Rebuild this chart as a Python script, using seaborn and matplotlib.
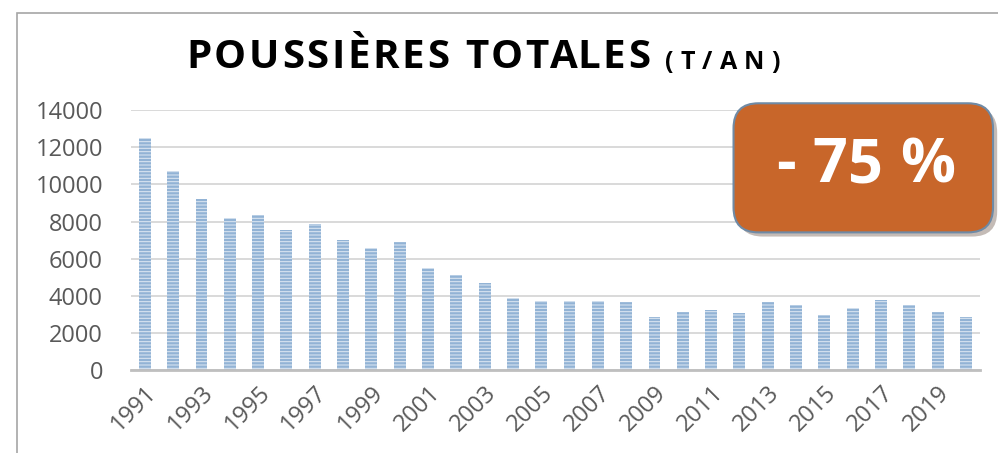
import matplotlib
matplotlib.use("Agg")
import matplotlib.pyplot as plt
import matplotlib.patheffects as pe
from matplotlib.patches import FancyBboxPatch, Rectangle
import seaborn as sns
import pandas as pd

# Données (t/an)
annees = [str(a) for a in range(1991, 2021)]
emissions = [12500, 10700, 9200, 8180, 8350, 7540, 7860, 7000, 6570, 6890,
             5490, 5120, 4680, 3890, 3730, 3700, 3700, 3690, 2840, 3120,
             3230, 3100, 3640, 3480, 2980, 3320, 3750, 3500, 3140, 2870]
yticks = [0, 2000, 4000, 6000, 8000, 10000, 12000, 14000]

titre = "POUSSIÈRES TOTALES"
unite = "(T/AN)"
badge = "- 75 %"

sns.set_theme(style="white")
plt.rcParams['font.family'] = ['Open Sans', 'DejaVu Sans']
plt.rcParams['hatch.linewidth'] = 0.75

df = pd.DataFrame({'annee': annees, 'valeur': emissions})

fig = plt.figure(figsize=(9.98, 4.53), dpi=100)
ax = fig.add_axes([0.131, 0.183, 0.851, 0.574])
renderer = fig.canvas.get_renderer()


def largeur(s, **kw):
    # largeur en pixels d'une chaine (astuce du '|' pour garder les espaces)
    t = fig.text(0, 0, s + '|', **kw)
    r = fig.text(0, 0, '|', **kw)
    w = t.get_window_extent(renderer).width - r.get_window_extent(renderer).width
    t.remove()
    r.remove()
    return w


def texte_espace(x0, x1, y, s, **kw):
    # texte avec interlettrage pour occuper x0..x1 (pixels)
    total = largeur(s, **kw)
    track = (x1 - x0 - total) / (len(s) - 1)
    for i, ch in enumerate(s):
        x = x0 + largeur(s[:i], **kw) + i * track if i else x0
        fig.text(x / fig.bbox.width, y, ch, ha='left', va='center', **kw)


sns.barplot(data=df, x='annee', y='valeur', color='#92b3d5', width=0.42,
            saturation=1, ax=ax)
for bar in ax.patches:
    bar.set_hatch('-----')
    bar.set_edgecolor('#dbe6f2')
    bar.set_linewidth(0)

ax.set_ylim(0, 14000)
ax.set_xlim(-0.5, len(annees) - 0.5)
ax.set_yticks(yticks)
ax.set_yticklabels([str(v) for v in yticks], fontsize=17, color='#595959')
ax.yaxis.grid(True, color='#d9d9d9', linewidth=1.4)
ax.set_axisbelow(True)

pos = list(range(0, len(annees), 2))
ax.set_xticks(pos)
ax.set_xticklabels([annees[i] for i in pos], rotation=45, ha='right',
                   rotation_mode='anchor', fontsize=17, color='#595959')
ax.tick_params(axis='both', length=0)
ax.tick_params(axis='y', pad=20)
ax.tick_params(axis='x', pad=8)
ax.set_xlabel('')
ax.set_ylabel('')
for s in ['top', 'right', 'left']:
    ax.spines[s].set_visible(False)
ax.spines['bottom'].set_color('#bfbfbf')
ax.spines['bottom'].set_linewidth(2)

# cadre
fig.patches.append(Rectangle((0.017, -0.1), 1.1, 1.071, transform=fig.transFigure,
                             fill=False, edgecolor='#a6a6a6', linewidth=1.2))

# titre
texte_espace(186, 650, 0.872, titre, fontsize=29, fontweight='bold', color='black')
texte_espace(665, 780, 0.862, unite, fontsize=18, fontweight='bold', color='black')

# pastille
box = FancyBboxPatch((0.735, 0.487), 0.26, 0.285, transform=fig.transFigure,
                     boxstyle='round,pad=0,rounding_size=0.025',
                     facecolor='#c8662a', edgecolor='#6f8aa5', linewidth=1.5,
                     mutation_aspect=2.2)
box.set_path_effects([pe.SimplePatchShadow(offset=(3, -3), alpha=0.3), pe.Normal()])
fig.patches.append(box)
texte_espace(776, 955, 0.632, badge, fontsize=44, fontweight='bold', color='white')

fig.savefig('out.png', dpi=100)
